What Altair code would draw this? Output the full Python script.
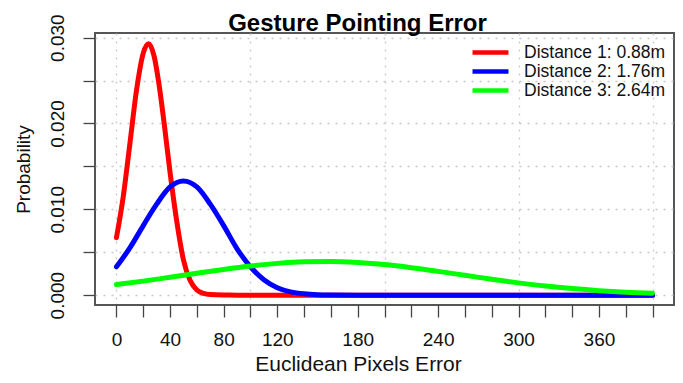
import altair as alt
import pandas as pd

series = ["Distance 1: 0.88m", "Distance 2: 1.76m", "Distance 3: 2.64m"]
colors = ["#FF0000", "#0000FF", "#00FF00"]

red_x = [0, 5, 10, 15, 20, 24, 28, 32, 36, 40, 45, 50, 55, 60, 65, 70, 80, 90, 100, 150, 200, 250, 300, 350, 400]
red_y = [0.0067, 0.0114, 0.0176, 0.0239, 0.0282, 0.0293, 0.0279, 0.0243, 0.0195, 0.0143, 0.0086, 0.0041,
         0.0017, 0.0006, 0.0002, 0.00006, 0.00001, 0, 0, 0, 0, 0, 0, 0, 0]

blue_x = [0, 10, 20, 30, 40, 50, 60, 70, 80, 90, 100, 110, 120, 130, 140, 150, 160, 180, 200, 250, 300, 350, 400]
blue_y = [0.0033, 0.0055, 0.0081, 0.0106, 0.0126, 0.0133, 0.0126, 0.0106, 0.0081, 0.0054, 0.0033, 0.0018,
          0.00087, 0.00038, 0.00015, 0.00005, 0.00002, 0, 0, 0, 0, 0, 0]

green_x = [0, 20, 40, 60, 80, 100, 120, 140, 160, 180, 200, 220, 240, 260, 280, 300, 320, 340, 360, 380, 400]
green_y = [0.00123, 0.00163, 0.00208, 0.00254, 0.00299, 0.00339, 0.00370, 0.00388, 0.00392, 0.00380, 0.00356,
           0.00320, 0.00277, 0.00231, 0.00185, 0.00143, 0.00106, 0.00076, 0.00052, 0.00034, 0.00022]

x_ticks = list(range(0, 401, 20))
x_labels = ["0", "40", "80", "120", "180", "240", "300", "360"]
x_grid = [0, 100, 200, 300, 400]
y_ticks = [0, 0.005, 0.01, 0.015, 0.02, 0.025, 0.03]
y_labels = ["0.000", "0.010", "0.020", "0.030"]

rows = []
for name, xs, ys in zip(series, [red_x, blue_x, green_x], [red_y, blue_y, green_y]):
    for a, b in zip(xs, ys):
        rows.append({"series": name, "x": a, "y": b})
df = pd.DataFrame(rows)

FONT = "Liberation Sans"
x_lab_list = ",".join("'%s'" % s for s in x_labels)
y_lab_list = ",".join("'%s'" % s for s in y_labels)
x_grid_test = " || ".join("datum.value === %d" % v for v in x_grid)

chart = alt.Chart(df).mark_line(
    strokeWidth=5, strokeCap="round", strokeJoin="round", interpolate="monotone"
).encode(
    x=alt.X(
        "x:Q",
        scale=alt.Scale(domain=[-16, 416], nice=False, zero=False),
        axis=alt.Axis(
            values=x_ticks,
            labelExpr="indexof([%s], datum.label) >= 0 ? datum.label : ''" % x_lab_list,
            title="Euclidean Pixels Error",
            titleFont=FONT, titleFontSize=21, titleFontWeight="normal", titleColor="#111",
            titleX=263, titleY=65, titleBaseline="alphabetic", titleAlign="center", titleAnchor="start",
            labelFont=FONT, labelFontSize=19, labelColor="#111",
            labelBaseline="alphabetic", labelPadding=28, labelOverlap=False, labelFlush=False,
            tickSize=12, tickColor="#444", tickWidth=1.3,
            domain=False,
            grid=True,
            gridColor="#c8c8c8", gridDash=[2, 6], gridWidth=1.3,
            gridOpacity={"condition": {"test": x_grid_test, "value": 1}, "value": 0},
        ),
    ),
    y=alt.Y(
        "y:Q",
        scale=alt.Scale(domain=[-0.00115, 0.03054], nice=False, zero=False),
        axis=alt.Axis(
            values=y_ticks,
            format=".3f",
            labelExpr="indexof([%s], datum.label) >= 0 ? datum.label : ''" % y_lab_list,
            title="Probability",
            titleFont=FONT, titleFontSize=19, titleFontWeight="normal", titleColor="#111",
            titleAngle=270, titleX=-66, titleY=136, titleBaseline="alphabetic", titleAlign="center",
            titleAnchor="start",
            labelFont=FONT, labelFontSize=19, labelColor="#111",
            labelAngle=270, labelAlign="center", labelBaseline="alphabetic", labelPadding=20,
            labelOverlap=False, labelFlush=False,
            tickSize=12, tickColor="#444", tickWidth=1.3,
            domain=False,
            grid=True, gridColor="#c8c8c8", gridDash=[2, 6], gridWidth=1.3,
        ),
    ),
    color=alt.Color(
        "series:N",
        scale=alt.Scale(domain=series, range=colors),
        legend=alt.Legend(
            title=None, orient="none", legendX=386, legendY=10,
            symbolType="M-2.57,0H2.57", symbolSize=196, symbolStrokeWidth=4.5,
            labelFont=FONT, labelFontSize=17.5, labelColor="#111", labelOffset=24,
            rowPadding=-2, padding=0,
        ),
    ),
).properties(
    width=579,
    height=272,
    padding={"left": 87, "top": 25, "right": 1, "bottom": 70},
    autosize=alt.AutoSizeParams(type="none"),
    title=alt.TitleParams(
        "Gesture Pointing Error", font=FONT, fontSize=24, fontWeight="bold", color="#000",
        anchor="middle", dx=-27, dy=41, baseline="alphabetic", offset=0,
    ),
).configure_view(
    stroke="#555", strokeWidth=2
)

chart.save("out.html", embed_options={"renderer": "svg", "actions": False})
